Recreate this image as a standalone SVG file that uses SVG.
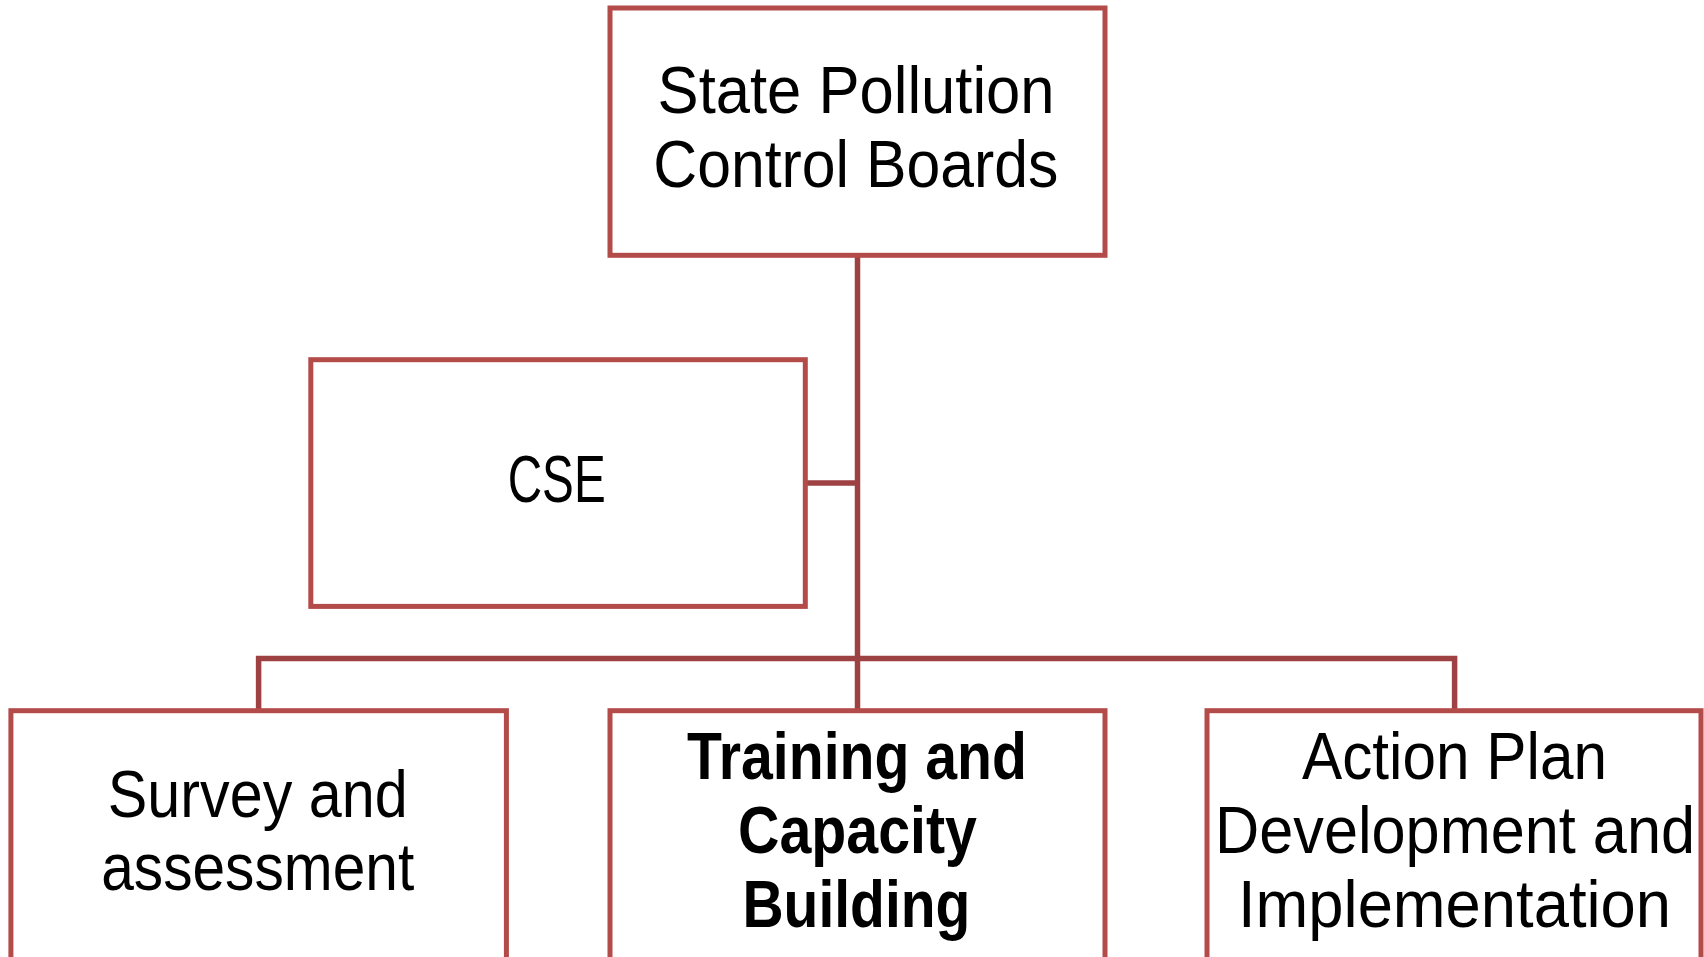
<svg xmlns="http://www.w3.org/2000/svg" width="1704" height="957" viewBox="0 0 1704 957">
  <style>
    .box { fill: #ffffff; stroke: #B34B49; stroke-width: 5; }
    .link { fill: none; stroke: #9E4142; stroke-width: 5.5; }
    .lbl { font-family: "Liberation Sans", Arial, sans-serif; font-size: 67px; fill: #000000; }
    .bold { font-weight: bold; }
  </style>
  <rect width="1704" height="957" fill="#ffffff"/>

  <!-- connectors -->
  <g id="connectors">
    <path class="link" d="M857.5 256 V710.7"/>
    <path class="link" d="M805.3 483 H857.5"/>
    <path class="link" d="M258.6 710.7 V658.5 H1454.6 V710.7"/>
  </g>

  <g id="node-spcb">
    <rect class="box" x="610" y="8" width="495" height="247.3"/>
    <text class="lbl" x="657.6" y="113" textLength="397" lengthAdjust="spacingAndGlyphs">State Pollution</text>
    <text class="lbl" x="653.3" y="187" textLength="405" lengthAdjust="spacingAndGlyphs">Control Boards</text>
  </g>

  <g id="node-cse">
    <rect class="box" x="310.8" y="359.7" width="494.5" height="246.7"/>
    <text class="lbl" x="507.7" y="502" textLength="98" lengthAdjust="spacingAndGlyphs">CSE</text>
  </g>

  <g id="node-survey">
    <rect class="box" x="10.9" y="710.7" width="495.5" height="250"/>
    <text class="lbl" x="107.8" y="816.5" textLength="300" lengthAdjust="spacingAndGlyphs">Survey and</text>
    <text class="lbl" x="101.2" y="890" textLength="313" lengthAdjust="spacingAndGlyphs">assessment</text>
  </g>

  <g id="node-training">
    <rect class="box" x="610" y="710.7" width="495" height="250"/>
    <text class="lbl bold" x="687" y="779.3" textLength="340" lengthAdjust="spacingAndGlyphs">Training and</text>
    <text class="lbl bold" x="738" y="853.3" textLength="239" lengthAdjust="spacingAndGlyphs">Capacity</text>
    <text class="lbl bold" x="742.4" y="926.7" textLength="228" lengthAdjust="spacingAndGlyphs">Building</text>
  </g>

  <g id="node-action">
    <rect class="box" x="1207" y="710.7" width="494" height="250"/>
    <text class="lbl" x="1302" y="779.3" textLength="305" lengthAdjust="spacingAndGlyphs">Action Plan</text>
    <text class="lbl" x="1215" y="853.3" textLength="480" lengthAdjust="spacingAndGlyphs">Development and</text>
    <text class="lbl" x="1238" y="926.7" textLength="433" lengthAdjust="spacingAndGlyphs">Implementation</text>
  </g>
</svg>
